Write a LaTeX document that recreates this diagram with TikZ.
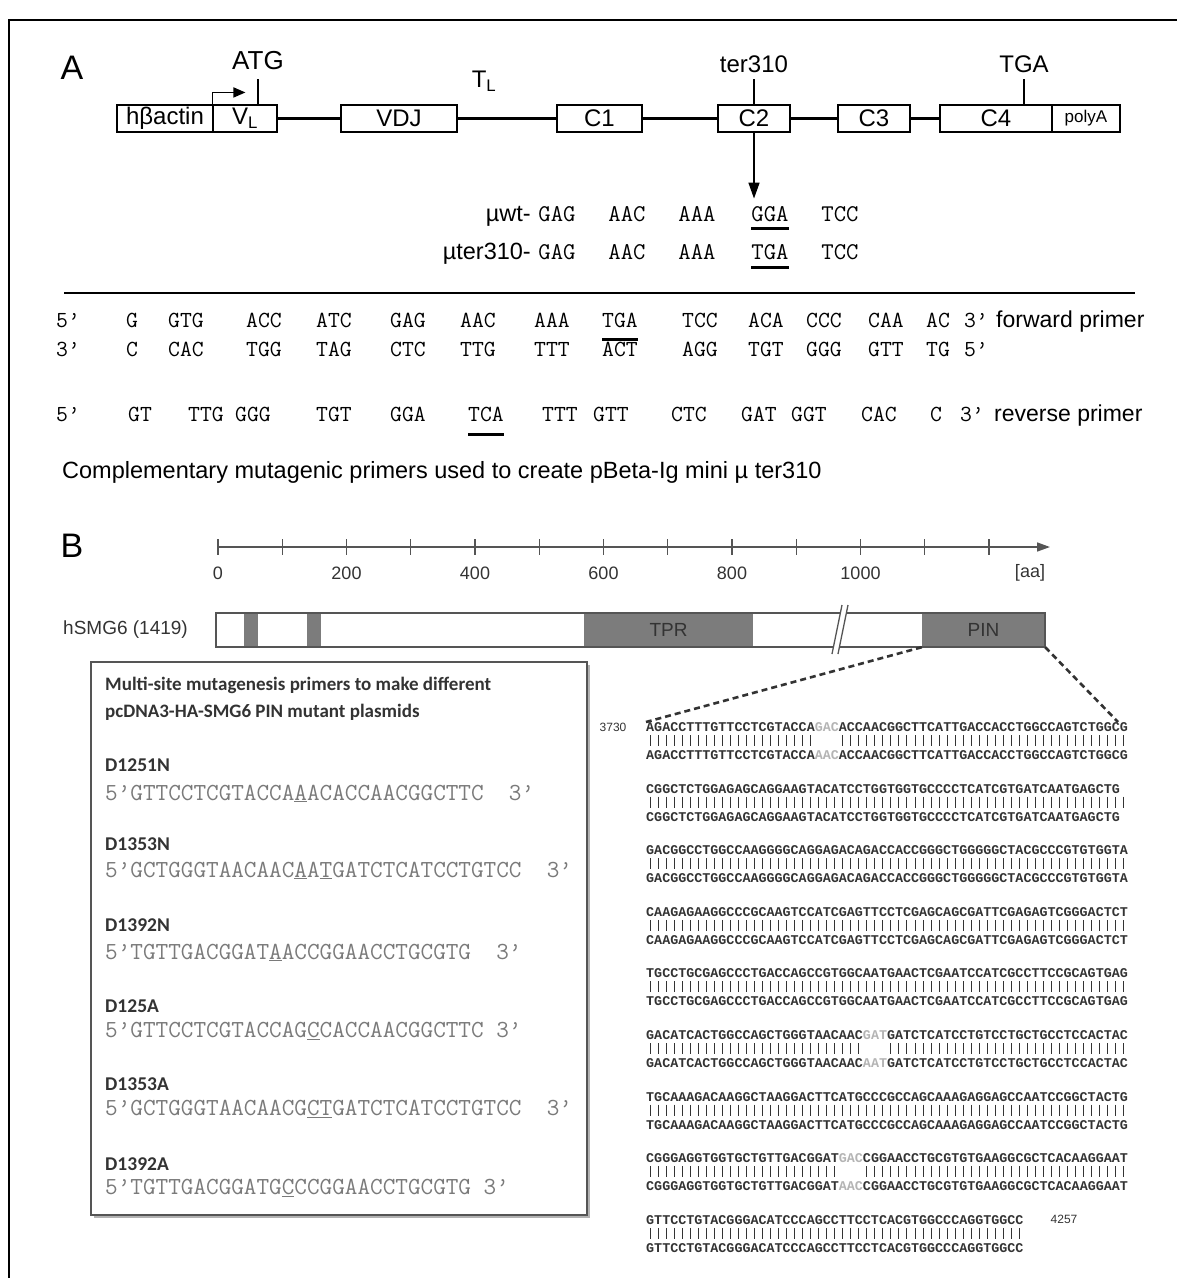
\documentclass[tikz,border=0pt]{standalone}
\usepackage{fontspec}
\setmainfont{Liberation Sans}
\newfontfamily\boldseq{Liberation Mono}
\newfontfamily\calfont{Carlito}
\usetikzlibrary{arrows.meta}

\definecolor{inkgrey}{HTML}{333333}
\definecolor{axisgrey}{HTML}{555555}
\definecolor{domaingrey}{HTML}{7C7C7C}
\definecolor{primergrey}{HTML}{7A7A7A}
\definecolor{mutgrey}{HTML}{B4B4B4}

\newcommand{\fsz}[1]{\fontsize{#1}{#1}\selectfont}
\newcommand{\gc}[1]{\textcolor{mutgrey}{#1}}

\tikzset{
  exon/.style={draw,line width=1.1pt,fill=white,minimum height=27pt,inner sep=0pt,font=\fsz{24}},
  geneline/.style={draw,line width=2.6pt},
  tickline/.style={draw,line width=1.1pt},
  codon/.style={inner sep=0pt,anchor=base,font=\ttfamily\fsz{24}},
  pcodon/.style={inner sep=0pt,anchor=base,font=\ttfamily\fsz{23}},
  uline/.style={draw,line width=2.2pt},
  seqrow/.style={anchor=west,inner sep=0pt,text=inkgrey,font=\boldseq\bfseries\fsz{13.38}},
  matchbar/.style={draw=inkgrey,line width=1pt},
  dlabel/.style={anchor=base west,inner sep=0pt,text=inkgrey,font=\calfont\bfseries\fsz{19.5}},
  dprimer/.style={anchor=base west,inner sep=0pt,text=primergrey,font=\ttfamily\fsz{24.5}},
  ticklab/.style={text=inkgrey,font=\fsz{18}},
  pdomain/.style={fill=domaingrey,inner sep=0pt,minimum height=34pt,text=inkgrey,font=\fsz{19}},
  zoomline/.style={draw=inkgrey,line width=2.6pt,dash pattern=on 6pt off 4pt},
}

\begin{document}
\begin{tikzpicture}[x=1pt,y=-1pt]
\useasboundingbox (0,0) rectangle (1177,1278);
% frame
\draw[line width=1.2pt] (9,1278) -- (9,20) -- (1177,20);

% ---------- panel A: construct ----------
\node[font=\fsz{34}] (labA) at (72,68) {A};
\node[exon,minimum width=96pt] (actin) at (165,118.5) {hβactin};
\node[exon,minimum width=64pt] (VL) at (245,118.5) {V\textsubscript{L}};
\node[exon,minimum width=116pt] (VDJ) at (399,118.5) {VDJ};
\node[exon,minimum width=85pt] (C1) at (599.5,118.5) {C1};
\node[exon,minimum width=72pt] (C2) at (754,118.5) {C2};
\node[exon,minimum width=72pt] (C3) at (874,118.5) {C3};
\node[exon,minimum width=112pt] (C4) at (996,118.5) {C4};
\node[exon,minimum width=68pt,font=\fsz{17}] (polyA) at (1086,118.5) {polyA};
\path (VL) edge[geneline] (VDJ)
      (VDJ) edge[geneline] (C1)
      (C1) edge[geneline] (C2)
      (C2) edge[geneline] (C3)
      (C3) edge[geneline] (C4);

\node[font=\fsz{26}] (atg) at (258,61) {ATG};
\node[font=\fsz{24}] (TL) at (484,81) {T\textsubscript{L}};
\node[font=\fsz{24}] (terlab) at (754,64) {ter310};
\node[font=\fsz{24}] (tga) at (1024,64) {TGA};
\coordinate (atgtick) at (258,79);
\coordinate (tertick) at (754,79);
\coordinate (tgatick) at (1024,79);
\path (atgtick) edge[tickline] (atgtick |- VL.north)
      (tertick) edge[tickline] (C2.north)
      (tgatick) edge[tickline] (tgatick |- C4.north);
\draw[line width=1.6pt,-{Triangle[length=12pt,width=10pt]}] (VL.north west) -- ++(0,-12) -- ++(33,0);
\draw[line width=1.6pt,-{Triangle[length=16pt,width=11pt]}] (C2.south) -- ++(0,66);

% wild type / mutant codons
\node[anchor=base east,inner sep=0pt,font=\fsz{23.5}] (wtlab) at (531,221) {µwt-};
\node[anchor=base east,inner sep=0pt,font=\fsz{23.5}] (mtlab) at (531,259) {µter310-};
\foreach \x/\c [count=\k] in {557/GAG,627/AAC,697/AAA,770/GGA,840/TCC}
  \node[codon] (mu\k) at (\x,221) {\c};
\foreach \x/\c [count=\k] in {557/GAG,627/AAC,697/AAA,770/TGA,840/TCC}
  \node[codon] (mt\k) at (\x,259) {\c};
\path ([yshift=-7pt]mu4.south west) edge[uline] ([yshift=-7pt]mu4.south east)
      ([yshift=-8pt]mt4.south west) edge[uline] ([yshift=-8pt]mt4.south east);

\draw[line width=1.6pt] (64,293) -- (1135,293);

% primers
\foreach \x/\c [count=\k] in {68/5’,132/G,186/GTG,264/ACC,334/ATC,408/GAG,478/AAC,552/AAA,620/TGA,700/TCC,766/ACA,824/CCC,886/CAA,938/AC,976/3’}
  \node[pcodon] (fw\k) at (\x,327) {\c};
\foreach \x/\c [count=\k] in {68/3’,132/C,186/CAC,264/TGG,334/TAG,408/CTC,478/TTG,552/TTT,620/ACT,700/AGG,766/TGT,824/GGG,886/GTT,938/TG,976/5’}
  \node[pcodon] (cp\k) at (\x,356) {\c};
\foreach \x/\c [count=\k] in {68/5’,140/GT,206/TTG,253/GGG,334/TGT,408/GGA,486/TCA,560/TTT,611/GTT,689/CTC,759/GAT,809/GGT,879/CAC,936/C,972/3’}
  \node[pcodon] (rv\k) at (\x,421) {\c};
\node[anchor=base west,inner sep=0pt,font=\fsz{23}] (fwlab) at (996,327) {forward primer};
\node[anchor=base west,inner sep=0pt,font=\fsz{23}] (rvlab) at (994,421) {reverse primer};
\path ([yshift=-12pt]fw9.south west) edge[uline] ([yshift=-12pt]fw9.south east)
      ([yshift=-13pt]rv7.south west) edge[uline] ([yshift=-13pt]rv7.south east);

\node[anchor=base west,inner sep=0pt,font=\fsz{23.5}] (caption) at (62,478)
  {Complementary mutagenic primers used to create pBeta-Ig mini µ ter310};

% ---------- panel B: hSMG6 ----------
\node[font=\fsz{34}] (labB) at (72,546) {B};
\coordinate (ax0) at (218,547);
\coordinate (ax1) at (1050,547);
\draw[draw=axisgrey,line width=1.6pt,-{Triangle[length=13pt,width=9pt]}] (ax0) -- (ax1);
\foreach \k in {0,...,12}
  \draw[draw=axisgrey,line width=1.4pt] ({218+64.25*\k},539) -- ++(0,16);
\foreach \k/\v in {0/0,2/200,4/400,6/600,8/800,10/1000}
  \node[ticklab] (tl\k) at ({218+64.25*\k},573) {\v};
\node[ticklab] (aa) at (1030,573) {[aa]};

\node[fill=white,minimum width=829pt,minimum height=34pt,inner sep=0pt] (smg) at (630.5,630) {};
\node[pdomain,minimum width=14pt] (band1) at (251,630) {};
\node[pdomain,minimum width=14pt] (band2) at (314,630) {};
\node[pdomain,minimum width=169pt] (TPR) at (668.5,630) {TPR};
\node[pdomain,minimum width=123pt] (PIN) at (983.5,630) {PIN};
\draw[draw=axisgrey,line width=1.5pt] (smg.south west) rectangle (smg.north east);
\fill[white] (832,654) -- (838,654) -- (848,605) -- (842,605) -- cycle;
\draw[draw=axisgrey,line width=1.3pt] (832,654) -- (842,605) (838,654) -- (848,605);
\node[anchor=east,inner sep=0pt,text=inkgrey,font=\fsz{19}] (smglab) at (188,630) {hSMG6 (1419)};

\coordinate (zoomL) at (646,722);
\coordinate (zoomR) at (1118,722);
\path (PIN.south west) edge[zoomline] (zoomL)
      (PIN.south east) edge[zoomline] (zoomR);

% mutagenesis primer box
\fill[black!30] (94,665) rectangle (590,1218);
\node[draw=axisgrey,line width=1.8pt,fill=white,minimum width=496pt,minimum height=553pt,inner sep=0pt] (mutbox) at (339,938.5) {};
\node[dlabel,font=\calfont\bfseries\fsz{19}] (head1) at (105,690) {Multi-site mutagenesis primers to make different};
\node[dlabel,font=\calfont\bfseries\fsz{19}] (head2) at (105,717) {pcDNA3-HA-SMG6 PIN mutant plasmids};
\foreach \y/\t [count=\k] in {771/D1251N,850/D1353N,931/D1392N,1012/D125A,1090/D1353A,1170/D1392A}
  \node[dlabel] (dl\k) at (105,\y) {\t};
\node[dprimer] (pr1) at (105,800) {5’GTTCCTCGTACCA\underline{A}ACACCAACGGCTTC\ \ 3’};
\node[dprimer] (pr2) at (105,877) {5’GCTGGGTAACAAC\underline{A}A\underline{T}GATCTCATCCTGTCC\ \ 3’};
\node[dprimer] (pr3) at (105,959) {5’TGTTGACGGAT\underline{A}ACCGGAACCTGCGTG\ \ 3’};
\node[dprimer] (pr4) at (105,1037) {5’GTTCCTCGTACCAG\underline{C}CACCAACGGCTTC\ 3’};
\node[dprimer] (pr5) at (105,1115) {5’GCTGGGTAACAACG\underline{CT}GATCTCATCCTGTCC\ \ 3’};
\node[dprimer] (pr6) at (105,1194) {5’TGTTGACGGATG\underline{C}CCGGAACCTGCGTG\ 3’};

% alignment of the PIN region
\node[text=inkgrey,font=\fsz{12}] (n3730) at (613,727) {3730};
\foreach \r/\st/\sb [evaluate=\r as \yy using 727+61.6*\r] in {
  0/{AGACCTTTGTTCCTCGTACCA\gc{GAC}ACCAACGGCTTCATTGACCACCTGGCCAGTCTGGCG}/{AGACCTTTGTTCCTCGTACCA\gc{AAC}ACCAACGGCTTCATTGACCACCTGGCCAGTCTGGCG},
  1/{CGGCTCTGGAGAGCAGGAAGTACATCCTGGTGGTGCCCCTCATCGTGATCAATGAGCTG}/{CGGCTCTGGAGAGCAGGAAGTACATCCTGGTGGTGCCCCTCATCGTGATCAATGAGCTG},
  2/{GACGGCCTGGCCAAGGGGCAGGAGACAGACCACCGGGCTGGGGGCTACGCCCGTGTGGTA}/{GACGGCCTGGCCAAGGGGCAGGAGACAGACCACCGGGCTGGGGGCTACGCCCGTGTGGTA},
  3/{CAAGAGAAGGCCCGCAAGTCCATCGAGTTCCTCGAGCAGCGATTCGAGAGTCGGGACTCT}/{CAAGAGAAGGCCCGCAAGTCCATCGAGTTCCTCGAGCAGCGATTCGAGAGTCGGGACTCT},
  4/{TGCCTGCGAGCCCTGACCAGCCGTGGCAATGAACTCGAATCCATCGCCTTCCGCAGTGAG}/{TGCCTGCGAGCCCTGACCAGCCGTGGCAATGAACTCGAATCCATCGCCTTCCGCAGTGAG},
  5/{GACATCACTGGCCAGCTGGGTAACAAC\gc{GAT}GATCTCATCCTGTCCTGCTGCCTCCACTAC}/{GACATCACTGGCCAGCTGGGTAACAAC\gc{AAT}GATCTCATCCTGTCCTGCTGCCTCCACTAC},
  6/{TGCAAAGACAAGGCTAAGGACTTCATGCCCGCCAGCAAAGAGGAGCCAATCCGGCTACTG}/{TGCAAAGACAAGGCTAAGGACTTCATGCCCGCCAGCAAAGAGGAGCCAATCCGGCTACTG},
  7/{CGGGAGGTGGTGCTGTTGACGGAT\gc{GAC}CGGAACCTGCGTGTGAAGGCGCTCACAAGGAAT}/{CGGGAGGTGGTGCTGTTGACGGAT\gc{AAC}CGGAACCTGCGTGTGAAGGCGCTCACAAGGAAT},
  8/{GTTCCTGTACGGGACATCCCAGCCTTCCTCACGTGGCCCAGGTGGCC}/{GTTCCTGTACGGGACATCCCAGCCTTCCTCACGTGGCCCAGGTGGCC}}{
  \node[seqrow] (top\r) at (646,\yy) {\st};
  \node[seqrow] (bot\r) at (646,\yy+28) {\sb};
}
\foreach \r/\g/\n in {0/21/60,1/-9/60,2/-9/60,3/-9/60,4/-9/60,5/27/60,6/-9/60,7/24/60,8/-9/47}{
  \foreach \k in {1,...,\n}{
    \pgfmathtruncatemacro{\gapflag}{and(\k>\g,\k<\g+4)}
    \ifnum\gapflag=0
      \draw[matchbar] ({646+(\k-0.5)*8.03},{735+61.6*\r}) -- ++(0,11);
    \fi
  }
}
\node[text=inkgrey,font=\fsz{12}] (n4257) at (1064,1219.8) {4257};
\end{tikzpicture}
\end{document}
